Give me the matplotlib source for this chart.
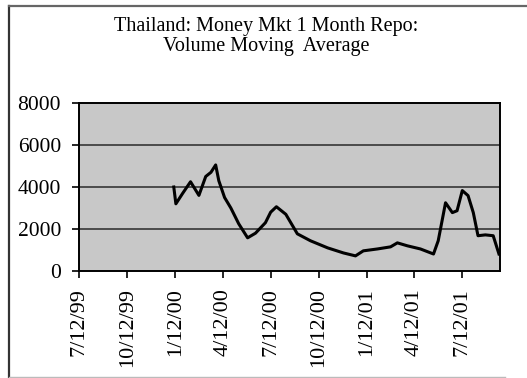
import numpy as np
import pandas as pd
import matplotlib
matplotlib.use('Agg')
import matplotlib.pyplot as plt
from matplotlib.lines import Line2D

# repo volume, moving average
dates = ['2000-01-09', '2000-01-13', '2000-01-26', '2000-02-10', '2000-02-26',
         '2000-03-10', '2000-03-20', '2000-03-29', '2000-04-04', '2000-04-15',
         '2000-04-27', '2000-05-12', '2000-05-29', '2000-06-13', '2000-07-02',
         '2000-07-12', '2000-07-23', '2000-08-10', '2000-09-01', '2000-09-26',
         '2000-10-29', '2000-11-28', '2000-12-21', '2001-01-05', '2001-02-01',
         '2001-02-26', '2001-03-11', '2001-03-30', '2001-04-24', '2001-05-19',
         '2001-05-28', '2001-06-11', '2001-06-24', '2001-07-03', '2001-07-13',
         '2001-07-24', '2001-08-03', '2001-08-12', '2001-08-26', '2001-09-10',
         '2001-09-21']
volume = [4000, 3200, 3700, 4250, 3600,
          4500, 4700, 5050, 4300, 3500,
          3000, 2250, 1580, 1800, 2300,
          2800, 3060, 2700, 1770, 1440,
          1100, 860, 720, 960, 1050,
          1150, 1340, 1200, 1050, 810,
          1440, 3250, 2780, 2870, 3830,
          3590, 2780, 1680, 1720, 1680,
          810]

tick_dates = ['1999-07-12', '1999-10-12', '2000-01-12', '2000-04-12', '2000-07-12',
              '2000-10-12', '2001-01-12', '2001-04-12', '2001-07-12']
tick_labels = ['7/12/99', '10/12/99', '1/12/00', '4/12/00', '7/12/00',
               '10/12/00', '1/12/01', '4/12/01', '7/12/01']
y_ticks = [0, 2000, 4000, 6000, 8000]

plt.rcParams['font.family'] = ['Liberation Serif', 'DejaVu Serif']

fig = plt.figure(figsize=(5.27, 3.78), dpi=100)
ax = fig.add_axes([79/527, 1 - 271/378, 421/527, 168/378])
ax.set_facecolor('#c8c8c8')

x = pd.to_datetime(dates)
ax.plot(x, volume, color='black', lw=2.2, zorder=3)

ax.set_xlim(pd.Timestamp('1999-07-12'), pd.Timestamp('2001-09-23'))
ax.set_ylim(0, 8000)
ax.set_yticks(y_ticks)
ax.set_yticklabels([str(v) for v in y_ticks], fontsize=15.5)
ax.set_xticks(pd.to_datetime(tick_dates))
ax.set_xticklabels(tick_labels, fontsize=16)
for lbl in ax.get_xticklabels():
    lbl.set_rotation(90)
    lbl.set_va('top')
    lbl.set_ha('center')

for v in y_ticks[1:-1]:
    ax.axhline(v, color='#2a2a2a', lw=1.1, zorder=2)

for s in ax.spines.values():
    s.set_linewidth(1.4)
    s.set_color('black')
ax.tick_params(axis='both', direction='out', length=5, width=1.2, color='black')
ax.tick_params(axis='x', pad=7)
ax.tick_params(axis='y', pad=8)

fig.text(0.505, 1 - 26/378, 'Thailand: Money Mkt 1 Month Repo:', ha='center', va='center', fontsize=14.5)
fig.text(0.505, 1 - 46/378, 'Volume Moving  Average', ha='center', va='center', fontsize=14.5)

# outer chart border
fig.add_artist(Line2D([8.5/527, 8.5/527], [1 - 377/378, 1 - 5.5/378], color='#333333', lw=1.6))
fig.add_artist(Line2D([8.5/527, 1.0], [1 - 5.5/378, 1 - 5.5/378], color='#666666', lw=1.6))
fig.add_artist(Line2D([8.5/527, 505/527], [1 - 377/378, 1 - 377/378], color='#bbbbbb', lw=1.0))

fig.savefig('out.png', dpi=100)
